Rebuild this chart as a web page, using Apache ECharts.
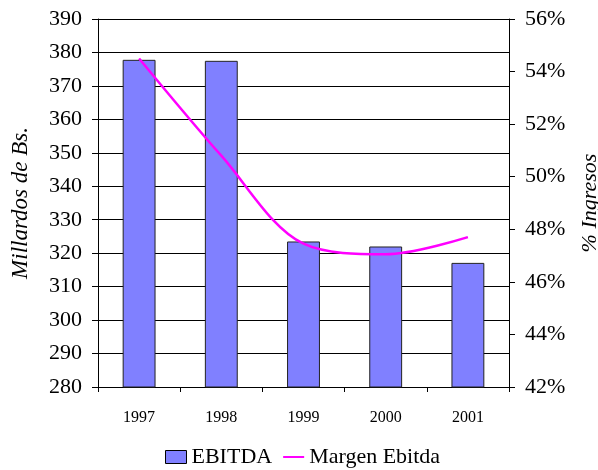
<!DOCTYPE html>
<html>
<head>
<meta charset="utf-8">
<script src="https://cdn.jsdelivr.net/npm/echarts@6/dist/echarts.min.js"></script>
<style>
  html, body { margin: 0; padding: 0; background: #fff; }
  #chart { width: 598px; height: 470px; }
</style>
</head>
<body>
<div id="chart"></div>
<script>
// datos
const years = ["1997", "1998", "1999", "2000", "2001"];
const ebitda = [377.8, 377.5, 323.5, 322.0, 317.1];
const margen = [54.5, 50.8, 47.45, 47.05, 47.7];

const font = "Liberation Serif";
const chart = echarts.init(document.getElementById("chart"));

const option = {
  animation: false,
  textStyle: { fontFamily: font, color: "#000" },
  grid: { left: 98, right: 89, top: 19, bottom: 83, containLabel: false, outerBoundsMode: "none" },
  legend: {
    left: 165,
    top: 446,
    padding: 0,
    itemWidth: 21,
    itemHeight: 13,
    itemGap: 10,
    textStyle: { fontFamily: font, fontSize: 22, color: "#000" },
    data: [
      { name: "EBITDA", icon: "rect", itemStyle: { color: "#8080FF", borderColor: "#000", borderWidth: 1 } },
      { name: "Margen Ebitda", itemStyle: { opacity: 0 } }
    ]
  },
  xAxis: {
    type: "category",
    data: years,
    axisLine: { lineStyle: { color: "#000", width: 1 } },
    axisTick: { show: true, length: 5, alignWithLabel: false, lineStyle: { color: "#000" } },
    axisLabel: { fontFamily: font, fontSize: 16, color: "#000", margin: 23 }
  },
  yAxis: [
    {
      type: "value",
      min: 280,
      max: 390,
      interval: 10,
      name: "Millardos de Bs.",
      nameLocation: "middle",
      nameRotate: 90,
      nameGap: 66,
      nameTextStyle: { fontFamily: font, fontSize: 23, fontStyle: "italic", color: "#000" },
      axisLine: { show: true, lineStyle: { color: "#000" } },
      axisTick: { show: true, length: 6, lineStyle: { color: "#000" } },
      axisLabel: { fontFamily: font, fontSize: 22, color: "#000", margin: 16 },
      splitLine: { show: true, lineStyle: { color: "#000", width: 1 } }
    },
    {
      type: "value",
      min: 42,
      max: 56,
      interval: 2,
      position: "right",
      name: "% Ingresos",
      nameLocation: "middle",
      nameRotate: 90,
      nameGap: 70,
      nameTextStyle: { fontFamily: font, fontSize: 22, fontStyle: "italic", color: "#000" },
      axisLine: { show: true, lineStyle: { color: "#000" } },
      axisTick: { show: true, length: 6, lineStyle: { color: "#000" } },
      axisLabel: { fontFamily: font, fontSize: 22, color: "#000", margin: 16, formatter: "{value}%" },
      splitLine: { show: false }
    }
  ],
  series: [
    {
      name: "EBITDA",
      type: "bar",
      yAxisIndex: 0,
      data: ebitda,
      barWidth: "40%",
      itemStyle: { color: "#8080FF", borderColor: "#222", borderWidth: 1 }
    },
    {
      name: "Margen Ebitda",
      type: "line",
      yAxisIndex: 1,
      data: margen,
      smooth: 0.33,
      symbol: "none",
      lineStyle: { color: "#FF00FF", width: 2.5 },
      itemStyle: { color: "#FF00FF" }
    }
  ]
};

chart.setOption(option);
</script>
</body>
</html>
